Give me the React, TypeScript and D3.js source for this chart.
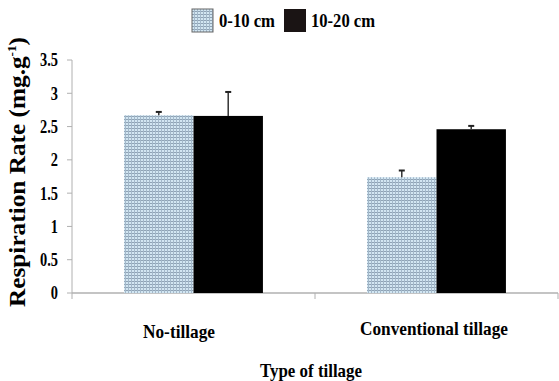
import React from "react";
import * as d3 from "d3";

const categories = ["No-tillage", "Conventional tillage"];
const series = ["0-10 cm", "10-20 cm"];
const values0to10 = [2.67, 1.74];
const values10to20 = [2.66, 2.46];
const errors0to10 = [0.05, 0.1];
const errors10to20 = [0.36, 0.05];
const yTicks = [0, 0.5, 1, 1.5, 2, 2.5, 3, 3.5];

const W = 559;
const H = 381;
const FONT = "'Liberation Serif', 'DejaVu Serif', serif";

export default function App() {
  const x0 = d3.scaleBand<string>().domain(categories).range([72, 558]).paddingInner(0).paddingOuter(0);
  const x1 = d3.scaleBand<string>().domain(series).range([0, x0.bandwidth()]).paddingInner(0).paddingOuter(0.75);
  const y = d3.scaleLinear().domain([0, 3.5]).range([293, 60]);
  const vals = [values0to10, values10to20];
  const errs = [errors0to10, errors10to20];
  const fills = ["url(#grid)", "#000"];

  return (
    <svg width={W} height={H} style={{ position: "absolute", left: 0, top: 0, background: "#fff" }}>
      <defs>
        <pattern id="grid" width={3} height={3} patternUnits="userSpaceOnUse">
          <rect width={3} height={3} fill="#d2e6f2" />
          <rect x={0} y={2} width={3} height={1} fill="#8fa3b5" />
          <rect x={2} y={0} width={1} height={3} fill="#a3b8ca" />
        </pattern>
      </defs>

      {/* axes */}
      <line x1={72} x2={72} y1={y(3.5)} y2={y(0)} stroke="#b0b0b0" strokeWidth={1} />
      <line x1={72} x2={558} y1={y(0)} y2={y(0)} stroke="#b0b0b0" strokeWidth={1.5} />
      {yTicks.map((t) => (
        <g key={t}>
          <line x1={67} x2={72} y1={y(t)} y2={y(t)} stroke="#b0b0b0" />
          <text transform={`translate(58,${y(t)}) scale(0.8,1)`} dy="0.36em" textAnchor="end" fontFamily={FONT} fontWeight="bold" fontSize={18}>
            {d3.format("")(t)}
          </text>
        </g>
      ))}
      {[72, 315, 558].map((xx) => (
        <line key={xx} x1={xx} x2={xx} y1={y(0)} y2={y(0) + 6} stroke="#b0b0b0" />
      ))}
      {/* bars */}
      {categories.map((c, ci) => (
        <g key={c}>
          {series.map((s, si) => {
            const bx = (x0(c) as number) + (x1(s) as number);
            const bw = x1.bandwidth();
            const v = vals[si][ci];
            const e = errs[si][ci];
            const cx = bx + bw / 2;
            return (
              <g key={s}>
                <rect x={bx} y={y(v)} width={bw} height={y(0) - y(v)} fill={fills[si]} />
                <line x1={cx} x2={cx} y1={y(v)} y2={y(v + e)} stroke="#333" strokeWidth={1.5} />
                <line x1={cx - 3} x2={cx + 3} y1={y(v + e)} y2={y(v + e)} stroke="#222" strokeWidth={2} />
              </g>
            );
          })}
        </g>
      ))}
      {/* category labels */}
      <text x={179} y={338} textAnchor="middle" fontFamily={FONT} fontWeight="bold" fontSize={19} textLength={72} lengthAdjust="spacingAndGlyphs">
        {categories[0]}
      </text>
      <text x={434} y={335} textAnchor="middle" fontFamily={FONT} fontWeight="bold" fontSize={19} textLength={148} lengthAdjust="spacingAndGlyphs">
        {categories[1]}
      </text>
      <text x={311} y={377} textAnchor="middle" fontFamily={FONT} fontWeight="bold" fontSize={19} textLength={102} lengthAdjust="spacingAndGlyphs">
        Type of tillage
      </text>
      {/* y title */}
      <text transform="translate(25,172) rotate(-90)" textAnchor="middle" fontFamily={FONT} fontWeight="bold" fontSize={23} textLength={270} lengthAdjust="spacingAndGlyphs">
        Respiration Rate (mg.g<tspan fontSize={12} dy={-9}>-1</tspan><tspan dy={9}>)</tspan>
      </text>
      {/* legend */}
      <rect x={192} y={9} width={21} height={23} fill="url(#grid)" stroke="#666" strokeWidth={1} />
      <text x={219} y={27} fontFamily={FONT} fontWeight="bold" fontSize={19} textLength={56} lengthAdjust="spacingAndGlyphs">
        {series[0]}
      </text>
      <rect x={284} y={9} width={22} height={23} fill="#1a1414" />
      <text x={311} y={27} fontFamily={FONT} fontWeight="bold" fontSize={19} textLength={64} lengthAdjust="spacingAndGlyphs">
        {series[1]}
      </text>
    </svg>
  );
}
